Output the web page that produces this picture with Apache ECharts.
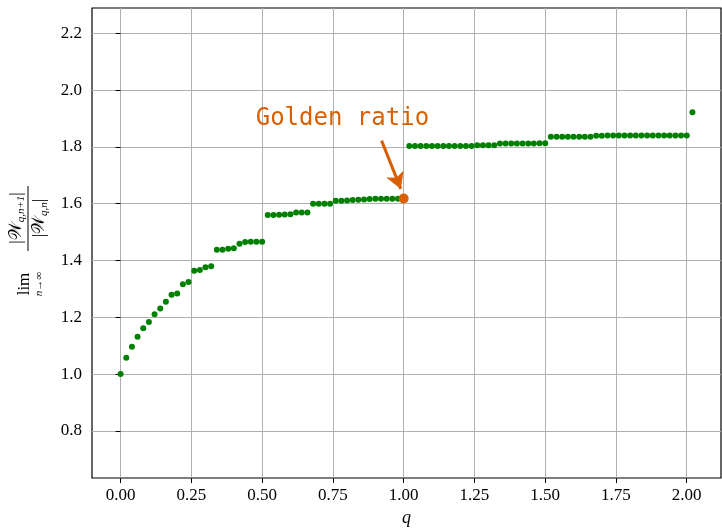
<!DOCTYPE html>
<html>
<head>
<meta charset="utf-8">
<script src="https://cdn.jsdelivr.net/npm/echarts@6/dist/echarts.min.js"></script>
<style>
html,body{margin:0;padding:0;background:#fff;}
#chart{width:722px;height:529px;}
</style>
</head>
<body>
<div id="chart"></div>
<script>
const qValues = [
  0.00,0.02,0.04,0.06,0.08,0.10,0.12,0.14,0.16,0.18,
  0.20,0.22,0.24,0.26,0.28,0.30,0.32,0.34,0.36,0.38,
  0.40,0.42,0.44,0.46,0.48,0.50,0.52,0.54,0.56,0.58,
  0.60,0.62,0.64,0.66,0.68,0.70,0.72,0.74,0.76,0.78,
  0.80,0.82,0.84,0.86,0.88,0.90,0.92,0.94,0.96,0.98,
  1.00,1.02,1.04,1.06,1.08,1.10,1.12,1.14,1.16,1.18,
  1.20,1.22,1.24,1.26,1.28,1.30,1.32,1.34,1.36,1.38,
  1.40,1.42,1.44,1.46,1.48,1.50,1.52,1.54,1.56,1.58,
  1.60,1.62,1.64,1.66,1.68,1.70,1.72,1.74,1.76,1.78,
  1.80,1.82,1.84,1.86,1.88,1.90,1.92,1.94,1.96,1.98,
  2.00,2.02
];
const growthRatios = [
  1.000,1.057,1.096,1.131,1.161,1.183,1.211,1.231,1.255,1.279,
  1.284,1.316,1.324,1.364,1.366,1.376,1.380,1.438,1.438,1.441,
  1.443,1.459,1.465,1.466,1.466,1.466,1.560,1.560,1.561,1.562,
  1.563,1.569,1.569,1.569,1.600,1.600,1.600,1.600,1.610,1.610,
  1.611,1.613,1.614,1.615,1.616,1.617,1.617,1.617,1.617,1.617,
  1.618,1.803,1.803,1.803,1.803,1.803,1.803,1.803,1.803,1.803,
  1.803,1.803,1.803,1.806,1.806,1.806,1.806,1.812,1.812,1.812,
  1.812,1.812,1.812,1.812,1.813,1.813,1.836,1.836,1.836,1.836,
  1.836,1.836,1.836,1.836,1.839,1.839,1.840,1.840,1.840,1.840,
  1.840,1.840,1.840,1.840,1.840,1.840,1.840,1.840,1.840,1.840,
  1.840,1.922
];
const goldenQ = [1.0];
const goldenValue = [1.618];
const annotationText = 'Golden ratio';
const arrowStart = [0.922, 1.822];
const arrowEnd = [0.990, 1.652];
const textAnchor = [0.7835, 1.899];
const xTicks = [0.00,0.25,0.50,0.75,1.00,1.25,1.50,1.75,2.00];
const yTicks = [0.8,1.0,1.2,1.4,1.6,1.8,2.0,2.2];
const xRange = [-0.101, 2.121];
const yRange = [0.634, 2.289];

const serif = '"Liberation Serif", "DejaVu Serif", serif';
const green = '#008000';
const orange = '#d95f02';
const gridColor = '#b0b0b0';

const chart = echarts.init(document.getElementById('chart'), null, {renderer: 'canvas'});

const axisCommon = {
  type: 'value',
  axisLine: {show: false},
  axisTick: {show: true, inside: false, length: 5, lineStyle: {color: '#000', width: 1}},
  splitLine: {show: true, lineStyle: {color: gridColor, width: 1}},
  axisLabel: {color: '#000', fontFamily: serif, fontSize: 17}
};

const option = {
  animation: false,
  backgroundColor: '#fff',
  grid: {left: 92, right: 1, top: 8, bottom: 51, show: true, borderColor: '#000', borderWidth: 1.2, backgroundColor: 'transparent', outerBoundsMode: 'none', containLabel: false},
  xAxis: Object.assign({}, axisCommon, {
    min: xRange[0], max: xRange[1],
    axisTick: Object.assign({}, axisCommon.axisTick, {customValues: xTicks}),
    axisLabel: Object.assign({}, axisCommon.axisLabel, {customValues: xTicks, margin: 9, formatter: v => v.toFixed(2)}),
    name: 'q', nameLocation: 'middle', nameGap: 31,
    nameTextStyle: {fontFamily: serif, fontStyle: 'italic', fontSize: 18, color: '#000'}
  }),
  yAxis: Object.assign({}, axisCommon, {
    min: yRange[0], max: yRange[1],
    axisTick: Object.assign({}, axisCommon.axisTick, {customValues: yTicks}),
    axisLabel: Object.assign({}, axisCommon.axisLabel, {customValues: yTicks, margin: 10, formatter: v => v.toFixed(1)})
  }),
  series: [
    {
      type: 'scatter',
      data: qValues.map((q, i) => [q, growthRatios[i]]),
      symbol: 'circle', symbolSize: 6,
      itemStyle: {color: green, opacity: 1},
      silent: true, z: 2
    },
    {
      type: 'scatter',
      data: goldenQ.map((q, i) => [q, goldenValue[i]]),
      symbol: 'circle', symbolSize: 10,
      itemStyle: {color: orange, opacity: 1},
      silent: true, z: 3,
      markLine: {
        silent: true,
        symbol: ['none', 'arrow'],
        symbolSize: [14, 16],
        label: {show: false},
        lineStyle: {color: orange, width: 3, type: 'solid', opacity: 1},
        emphasis: {disabled: true},
        data: [[{coord: arrowStart}, {coord: arrowEnd}]]
      },
      markPoint: {
        silent: true,
        symbol: 'circle', symbolSize: 0,
        itemStyle: {color: 'transparent'},
        label: {show: true, position: 'inside', formatter: annotationText, fontFamily: '"DejaVu Sans Mono", monospace', fontSize: 24, color: orange},
        data: [{coord: textAnchor}]
      }
    }
  ],
  graphic: [{
    type: 'group',
    x: 28, y: 244,
    rotation: Math.PI / 2,
    silent: true,
    children: [
      {type: 'text', x: -40, y: -3, style: {text: 'lim', font: '17px ' + serif, fill: '#000', align: 'center', verticalAlign: 'middle'}},
      {type: 'text', x: -40, y: 11, style: {text: '{i|n}{r|→∞}', fill: '#000', align: 'center', verticalAlign: 'middle',
        rich: {i: {fontFamily: serif, fontStyle: 'italic', fontSize: 11}, r: {fontFamily: serif, fontSize: 11}}}},
      {type: 'line', shape: {x1: -7, y1: 0, x2: 58, y2: 0}, style: {stroke: '#000', lineWidth: 1}},
      {type: 'text', x: 26, y: -11, style: {text: '{b||}{w|𝒲}{s|q,n+1}{b||}', align: 'center', verticalAlign: 'middle',
        rich: {b: {fontFamily: serif, fontSize: 17, fill: '#000'}, w: {fontFamily: serif, fontSize: 17, fill: '#000'}, s: {fontFamily: serif, fontStyle: 'italic', fontSize: 11, fill: '#000', padding: [8, 0, 0, 0]}}}},
      {type: 'text', x: 26, y: 12, style: {text: '{b||}{w|𝒲}{s|q,n}{b||}', align: 'center', verticalAlign: 'middle',
        rich: {b: {fontFamily: serif, fontSize: 17, fill: '#000'}, w: {fontFamily: serif, fontSize: 17, fill: '#000'}, s: {fontFamily: serif, fontStyle: 'italic', fontSize: 11, fill: '#000', padding: [8, 0, 0, 0]}}}}
    ]
  }]
};
chart.setOption(option);
</script>
</body>
</html>
